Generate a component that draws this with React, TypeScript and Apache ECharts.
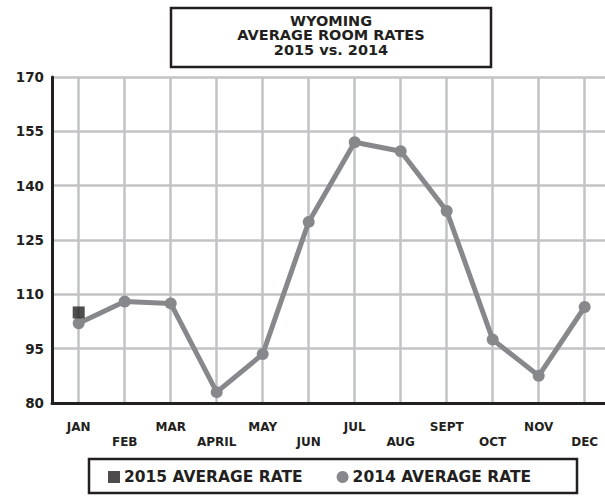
import React, { useEffect, useRef } from "react";
import * as echarts from "echarts";

const months = ["JAN", "FEB", "MAR", "APRIL", "MAY", "JUN", "JUL", "AUG", "SEPT", "OCT", "NOV", "DEC"];
const rate2014 = [102, 108, 107.5, 83, 93.5, 130, 152, 149.5, 133, 97.5, 87.5, 106.5];
const rate2015 = [105, null, null, null, null, null, null, null, null, null, null, null];
const yMin = 80;
const yMax = 170;
const yStep = 15;

const FONT = "'DejaVu Sans', Verdana, sans-serif";
const DARK = "#231f20";
const GRAY = "#87888b";
const GRID = "#c2c3c5";

export default function App() {
  const ref = useRef<HTMLDivElement>(null);
  useEffect(() => {
    document.body.style.margin = "0";
    const chart = echarts.init(ref.current!, null, { renderer: "svg" });
    chart.setOption({
      animation: false,
      backgroundColor: "#ffffff",
      grid: [
        { left: 52, right: -4, top: 77, bottom: 99 },
        { left: 78.7, right: 20.3, top: 77, bottom: 99 },
      ],
      xAxis: [
        {
          gridIndex: 0,
          type: "value",
          min: 0,
          max: 1,
          axisLine: { show: true, lineStyle: { color: DARK, width: 3 } },
          axisTick: { show: false },
          axisLabel: { show: false },
          splitLine: { show: false },
          z: 5,
        },
        {
          gridIndex: 1,
          type: "category",
          data: months,
          boundaryGap: false,
          axisLine: { show: false },
          axisTick: { show: false },
          splitLine: { show: true, lineStyle: { color: GRID, width: 2.5 } },
          axisLabel: {
            interval: 0,
            margin: 16,
            fontFamily: FONT,
            fontWeight: "bold",
            fontSize: 12,
            color: DARK,
            lineHeight: 15,
            formatter: (v: string, i: number) => (i % 2 === 1 ? "\n" + v : v),
          },
        },
      ],
      yAxis: [
        {
          gridIndex: 0,
          type: "value",
          min: yMin,
          max: yMax,
          interval: yStep,
          axisLine: { show: true, lineStyle: { color: DARK, width: 3 } },
          axisTick: { show: false },
          splitLine: { show: true, lineStyle: { color: GRID, width: 2.5 } },
          axisLabel: {
            margin: 8,
            fontFamily: FONT,
            fontWeight: "bold",
            fontSize: 13.5,
            color: DARK,
          },
          z: 5,
        },
        {
          gridIndex: 1,
          type: "value",
          min: yMin,
          max: yMax,
          interval: yStep,
          show: false,
        },
      ],
      series: [
        {
          name: "2014 AVERAGE RATE",
          type: "line",
          xAxisIndex: 1,
          yAxisIndex: 1,
          data: rate2014,
          symbol: "circle",
          symbolSize: 12,
          lineStyle: { color: GRAY, width: 5 },
          itemStyle: { color: GRAY },
          z: 10,
        },
        {
          name: "2015 AVERAGE RATE",
          type: "scatter",
          xAxisIndex: 1,
          yAxisIndex: 1,
          data: rate2015,
          symbol: "rect",
          symbolSize: 12,
          itemStyle: { color: DARK },
          z: 11,
        },
      ],
      legend: {
        data: [
          { name: "2015 AVERAGE RATE", icon: "rect" },
          { name: "2014 AVERAGE RATE", icon: "circle" },
        ],
        left: 103,
        top: 464,
        itemWidth: 12,
        itemHeight: 12,
        itemGap: 34,
        textStyle: { fontFamily: FONT, fontWeight: "bold", fontSize: 15.5, color: DARK, padding: [0, 0, 0, -1] },
        selectedMode: false,
      },
      graphic: [
        {
          type: "rect",
          shape: { x: 171, y: 8, width: 320, height: 59 },
          style: { fill: "#fff", stroke: DARK, lineWidth: 2.5 },
        },
        {
          type: "text",
          x: 331,
          y: 35,
          style: {
            text: "WYOMING\nAVERAGE ROOM RATES\n2015 vs. 2014",
            align: "center",
            verticalAlign: "middle",
            fontFamily: FONT,
            fontWeight: "bold",
            fontSize: 14.5,
            lineHeight: 14.5,
            fill: DARK,
          },
        },
        {
          type: "rect",
          shape: { x: 89, y: 459, width: 488, height: 34 },
          style: { fill: "none", stroke: DARK, lineWidth: 2.5 },
        },
      ],
    });
    return () => chart.dispose();
  }, []);
  return <div ref={ref} style={{ width: 605, height: 502 }} />;
}
